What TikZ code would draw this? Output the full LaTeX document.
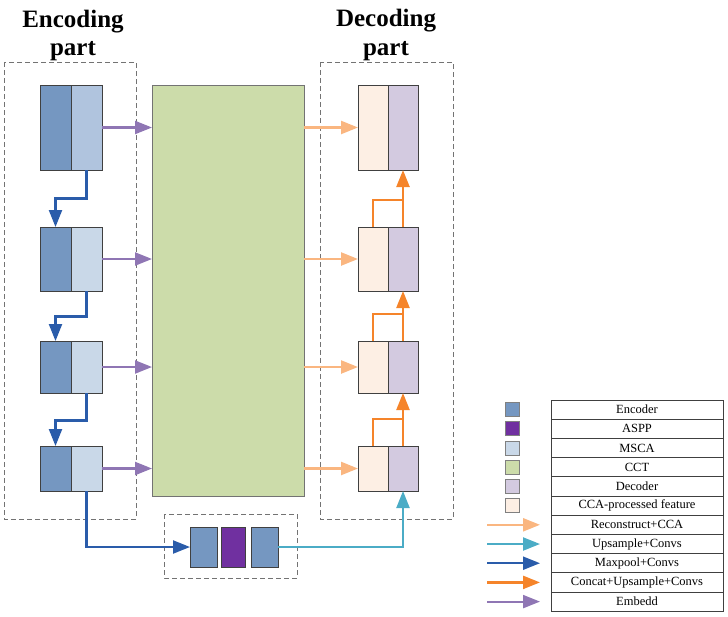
\documentclass[tikz,border=0pt]{standalone}
\usepackage{fontspec}
\setmainfont{Liberation Serif}
\usetikzlibrary{arrows.meta,calc}
\definecolor{encC}{RGB}{117,151,193}
\definecolor{mscaA}{RGB}{176,196,222}
\definecolor{mscaC}{RGB}{201,216,232}
\definecolor{asppC}{RGB}{112,48,160}
\definecolor{cctC}{RGB}{204,220,170}
\definecolor{decC}{RGB}{211,202,224}
\definecolor{ccaC}{RGB}{253,239,228}
\definecolor{recC}{RGB}{250,182,128}
\definecolor{upC}{RGB}{75,172,198}
\definecolor{mpC}{RGB}{42,92,170}
\definecolor{catC}{RGB}{245,132,42}
\definecolor{embC}{RGB}{143,118,180}
\definecolor{edgeC}{RGB}{64,64,64}
\begin{document}
\begin{tikzpicture}[x=1pt,y=-1pt,
  blk/.style={draw=edgeC,line width=0.8pt,inner sep=0pt,outer sep=0pt},
  dbox/.style={draw=black!55,dashed,dash pattern=on 5pt off 3pt,line width=0.8pt},
  tip/.style={-{Triangle[length=17pt,width=13pt]}},
  emb/.style={tip,draw=embC,line width=2.2pt},
  rec/.style={tip,draw=recC,line width=2.4pt},
  up/.style={tip,draw=upC,line width=2.2pt},
  mp/.style={tip,draw=mpC,line width=2.2pt},
  cat/.style={tip,draw=catC,line width=2.4pt},
  catline/.style={draw=catC,line width=2.4pt},
  title/.style={font=\fontsize{25}{28}\selectfont\bfseries,anchor=base,inner sep=0pt},
  legrow/.style={draw=edgeC,line width=0.8pt,minimum width=172pt,minimum height=19.2pt,inner sep=0pt,font=\fontsize{12.5}{14}\selectfont},
  sw/.style={draw=black!50,line width=0.8pt,minimum width=14pt,minimum height=14pt,inner sep=0pt}
]
\useasboundingbox (0,0) rectangle (728,616);
% titles
\node[title] (t1) at (73,27) {Encoding};
\node[title] (t2) at (73,55) {part};
\node[title] (t3) at (386,26) {Decoding};
\node[title] (t4) at (386,55) {part};
% dashed boxes
\draw[dbox] (4,62) rectangle (136,519);
\draw[dbox] (320,62) rectangle (453,519);
\draw[dbox] (164,514) rectangle (297,578);
% encoder blocks
\node[blk,fill=encC,minimum width=31pt,minimum height=85pt] (enc1a) at (55.5,127.5) {};
\node[blk,fill=mscaA,minimum width=31pt,minimum height=85pt] (enc1b) at (86.5,127.5) {};
\node[blk,fill=encC,minimum width=31pt,minimum height=64pt] (enc2a) at (55.5,259) {};
\node[blk,fill=mscaC,minimum width=31pt,minimum height=64pt] (enc2b) at (86.5,259) {};
\node[blk,fill=encC,minimum width=31pt,minimum height=52pt] (enc3a) at (55.5,367) {};
\node[blk,fill=mscaC,minimum width=31pt,minimum height=52pt] (enc3b) at (86.5,367) {};
\node[blk,fill=encC,minimum width=31pt,minimum height=45pt] (enc4a) at (55.5,468.5) {};
\node[blk,fill=mscaC,minimum width=31pt,minimum height=45pt] (enc4b) at (86.5,468.5) {};
% CCT
\node[blk,draw=black!55,fill=cctC,minimum width=152pt,minimum height=411pt] (cct) at (228,290.5) {};
% decoder blocks
\node[blk,fill=ccaC,minimum width=30pt,minimum height=85pt] (dec1a) at (373,127.5) {};
\node[blk,fill=decC,minimum width=30pt,minimum height=85pt] (dec1b) at (403,127.5) {};
\node[blk,fill=ccaC,minimum width=30pt,minimum height=64pt] (dec2a) at (373,259) {};
\node[blk,fill=decC,minimum width=30pt,minimum height=64pt] (dec2b) at (403,259) {};
\node[blk,fill=ccaC,minimum width=30pt,minimum height=52pt] (dec3a) at (373,367) {};
\node[blk,fill=decC,minimum width=30pt,minimum height=52pt] (dec3b) at (403,367) {};
\node[blk,fill=ccaC,minimum width=30pt,minimum height=45pt] (dec4a) at (373,468.5) {};
\node[blk,fill=decC,minimum width=30pt,minimum height=45pt] (dec4b) at (403,468.5) {};
% ASPP group
\node[blk,fill=encC,minimum width=27pt,minimum height=40pt] (asA) at (203.5,547) {};
\node[blk,fill=asppC,minimum width=24pt,minimum height=40pt] (asB) at (233,547) {};
\node[blk,fill=encC,minimum width=27pt,minimum height=40pt] (asC) at (264.5,547) {};
% embed and reconstruct arrows
\foreach \i in {1,2,3,4}{
  \draw[emb] (enc\i b.east) -- (enc\i b.east -| cct.west);
  \draw[rec] (cct.east |- dec\i a.west) -- (dec\i a.west);
}
% maxpool arrows
\draw[mp] (enc1b.south) -- ++(0,28.5) -| (enc2a.north);
\draw[mp] (enc2b.south) -- ++(0,25.5) -| (enc3a.north);
\draw[mp] (enc3b.south) -- ++(0,27.5) -| (enc4a.north);
\draw[mp] (enc4b.south) |- (asA.west);
% upsample arrow
\draw[up] (asC.east) -| (dec4b.south);
% concat arrows
\draw[catline] (dec2a.north) -- ++(0,-27) -| (dec2b.north);
\draw[cat] (dec2b.north) -- (dec1b.south);
\draw[catline] (dec3a.north) -- ++(0,-27) -| (dec3b.north);
\draw[cat] (dec3b.north) -- (dec2b.south);
\draw[catline] (dec4a.north) -- ++(0,-27) -| (dec4b.north);
\draw[cat] (dec4b.north) -- (dec3b.south);
% legend table
\node[legrow] (l1) at (637,409.6) {Encoder};
\node[legrow] (l2) at (637,428.8) {ASPP};
\node[legrow] (l3) at (637,448.0) {MSCA};
\node[legrow] (l4) at (637,467.2) {CCT};
\node[legrow] (l5) at (637,486.4) {Decoder};
\node[legrow] (l6) at (637,505.6) {CCA-processed feature};
\node[legrow] (l7) at (637,524.8) {Reconstruct+CCA};
\node[legrow] (l8) at (637,544.0) {Upsample+Convs};
\node[legrow] (l9) at (637,563.2) {Maxpool+Convs};
\node[legrow] (l10) at (637,582.4) {Concat+Upsample+Convs};
\node[legrow] (l11) at (637,601.6) {Embedd};
% swatches
\node[sw,fill=encC] (s1) at (512,409.6) {};
\node[sw,fill=asppC] (s2) at (512,428.8) {};
\node[sw,fill=mscaC] (s3) at (512,448.0) {};
\node[sw,fill=cctC] (s4) at (512,467.2) {};
\node[sw,fill=decC] (s5) at (512,486.4) {};
\node[sw,fill=ccaC] (s6) at (512,505.6) {};
% legend arrows
\coordinate (a7s) at (487,524.8); \coordinate (a7e) at (540,524.8);
\coordinate (a8s) at (487,544.0); \coordinate (a8e) at (540,544.0);
\coordinate (a9s) at (487,563.2); \coordinate (a9e) at (540,563.2);
\coordinate (a10s) at (487,582.4); \coordinate (a10e) at (540,582.4);
\coordinate (a11s) at (487,601.6); \coordinate (a11e) at (540,601.6);
\draw[rec] (a7s) -- (a7e);
\draw[up] (a8s) -- (a8e);
\draw[mp] (a9s) -- (a9e);
\draw[cat] (a10s) -- (a10e);
\draw[emb] (a11s) -- (a11e);
\end{tikzpicture}
\end{document}
